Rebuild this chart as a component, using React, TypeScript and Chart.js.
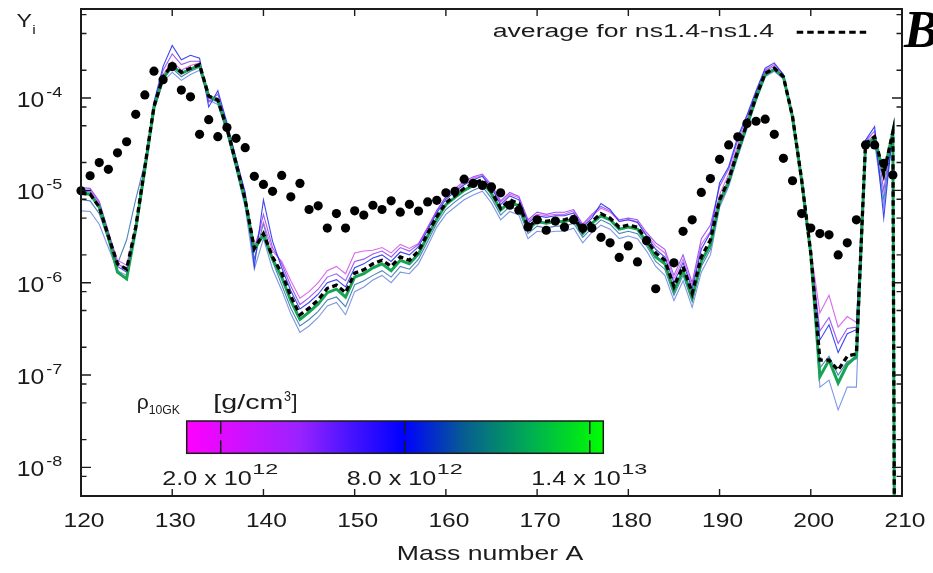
import React, { useEffect, useRef } from 'react';
import { Chart, registerables } from 'chart.js';

Chart.register(...registerables);

// ---------------- data ----------------
const massNumber = [
  120, 121, 122, 123, 124, 125, 126, 127, 128, 129,
  130, 131, 132, 133, 134, 135, 136, 137, 138, 139,
  140, 141, 142, 143, 144, 145, 146, 147, 148, 149,
  150, 151, 152, 153, 154, 155, 156, 157, 158, 159,
  160, 161, 162, 163, 164, 165, 166, 167, 168, 169,
  170, 171, 172, 173, 174, 175, 176, 177, 178, 179,
  180, 181, 182, 183, 184, 185, 186, 187, 188, 189,
  190, 191, 192, 193, 194, 195, 196, 197, 198, 199,
  200, 201, 202, 203, 204, 205, 206, 207, 208, 209, 210,
];

// average for ns1.4-ns1.4 (black dashed)
const averageNs14 = [
  9.3e-6, 9.1e-6, 6.6e-6, 3.2e-6, 1.6e-6, 1.4e-6, 4.0e-6, 1.8e-5, 8.1e-5, 1.7e-4,
  2.3e-4, 1.9e-4, 2.1e-4, 2.3e-4, 1.05e-4, 9.5e-5, 4.7e-5, 1.96e-5, 7.9e-6, 2.35e-6,
  3.4e-6, 1.9e-6, 1.27e-6, 7.1e-7, 4.5e-7, 5.3e-7, 6.5e-7, 8.7e-7, 9.4e-7, 7.8e-7,
  1.27e-6, 1.38e-6, 1.6e-6, 1.75e-6, 1.5e-6, 1.9e-6, 1.75e-6, 2.2e-6, 3.4e-6, 5.2e-6,
  7.3e-6, 8.8e-6, 1.05e-5, 1.19e-5, 1.3e-5, 9.7e-6, 6.4e-6, 7.9e-6, 7.2e-6, 4.0e-6,
  4.8e-6, 4.6e-6, 4.8e-6, 4.8e-6, 5.2e-6, 3.6e-6, 4.6e-6, 5.6e-6, 5.0e-6, 4.0e-6,
  4.2e-6, 4.0e-6, 2.9e-6, 2.1e-6, 1.75e-6, 9.1e-7, 1.5e-6, 7.7e-7, 1.9e-6, 2.9e-6,
  7.9e-6, 1.3e-5, 2.7e-5, 5.3e-5, 1.03e-4, 1.85e-4, 2.1e-4, 1.7e-4, 6.3e-5, 1.3e-5,
  2.1e-6, 1.45e-7, 1.45e-7, 1.13e-7, 1.6e-7, 1.7e-7, 3.2e-5, 3.8e-5, 1.5e-5, 4.3e-5, 1e-30,
];

// individual runs, coloured by rho_10GK
const rhoMagenta = [
  1.0e-5, 1.0e-5, 7.3e-6, 3.5e-6, 1.75e-6, 1.55e-6, 4.2e-6, 1.9e-5, 8.5e-5, 1.8e-4,
  2.5e-4, 2.0e-4, 2.25e-4, 2.4e-4, 1.0e-4, 1.0e-4, 5.0e-5, 2.1e-5, 8.5e-6, 2.5e-6,
  4.5e-6, 2.2e-6, 1.7e-6, 1.05e-6, 6.8e-7, 8.0e-7, 1.0e-6, 1.35e-6, 1.5e-6, 1.25e-6,
  2.1e-6, 2.2e-6, 2.25e-6, 2.4e-6, 2.1e-6, 2.6e-6, 2.35e-6, 2.65e-6, 4.0e-6, 6.1e-6,
  8.4e-6, 1.0e-5, 1.2e-5, 1.35e-5, 1.45e-5, 1.1e-5, 7.4e-6, 9.1e-6, 8.3e-6, 4.6e-6,
  5.5e-6, 5.3e-6, 5.5e-6, 5.5e-6, 6.0e-6, 4.1e-6, 5.3e-6, 6.4e-6, 5.8e-6, 4.6e-6,
  4.8e-6, 4.6e-6, 3.3e-6, 2.5e-6, 2.1e-6, 1.1e-6, 1.8e-6, 9.2e-7, 2.6e-6, 3.6e-6,
  9.0e-6, 1.5e-5, 3.1e-5, 5.8e-5, 1.1e-4, 1.95e-4, 2.2e-4, 1.75e-4, 6.5e-5, 1.35e-5,
  2.3e-6, 4.7e-7, 7.3e-7, 3.3e-7, 4.3e-7, 3.7e-7, 3.3e-5, 4.0e-5, 1.4e-5, 4.4e-5, 1e-30,
];
const rhoViolet = [
  1.07e-5, 1.05e-5, 7.6e-6, 3.6e-6, 1.6e-6, 1.4e-6, 4.1e-6, 1.9e-5, 8.8e-5, 2.0e-4,
  3.0e-4, 2.3e-4, 2.5e-4, 2.5e-4, 9.0e-5, 1.1e-4, 5.2e-5, 2.2e-5, 9.0e-6, 2.2e-6,
  5.5e-6, 2.4e-6, 1.6e-6, 9.2e-7, 5.8e-7, 6.9e-7, 8.5e-7, 1.15e-6, 1.25e-6, 1.05e-6,
  1.7e-6, 1.8e-6, 2.05e-6, 2.2e-6, 1.9e-6, 2.4e-6, 2.2e-6, 2.6e-6, 3.9e-6, 6.0e-6,
  8.6e-6, 1.05e-5, 1.25e-5, 1.4e-5, 1.5e-5, 1.15e-5, 7.7e-6, 9.5e-6, 8.6e-6, 4.8e-6,
  5.8e-6, 5.5e-6, 5.8e-6, 5.8e-6, 6.2e-6, 4.3e-6, 5.5e-6, 6.7e-6, 6.0e-6, 4.8e-6,
  5.0e-6, 4.8e-6, 3.5e-6, 2.7e-6, 2.3e-6, 1.2e-6, 2.0e-6, 1.0e-6, 3.0e-6, 4.2e-6,
  1.1e-5, 1.7e-5, 3.5e-5, 6.2e-5, 1.15e-4, 2.0e-4, 2.3e-4, 1.8e-4, 6.6e-5, 1.35e-5,
  2.2e-6, 3.0e-7, 4.2e-7, 2.2e-7, 3.2e-7, 3.3e-7, 3.4e-5, 4.4e-5, 1.0e-5, 4.5e-5, 1e-30,
];
const rhoBlue = [
  9.8e-6, 9.6e-6, 6.9e-6, 3.3e-6, 1.5e-6, 1.3e-6, 3.9e-6, 1.8e-5, 9.0e-5, 2.2e-4,
  3.7e-4, 2.6e-4, 2.9e-4, 2.7e-4, 8.0e-5, 1.2e-4, 5.4e-5, 2.2e-5, 9.5e-6, 1.5e-6,
  7.9e-6, 2.8e-6, 1.45e-6, 8.2e-7, 5.2e-7, 6.1e-7, 7.5e-7, 1.0e-6, 1.08e-6, 9.0e-7,
  1.45e-6, 1.6e-6, 1.85e-6, 2.0e-6, 1.7e-6, 2.15e-6, 2.0e-6, 2.45e-6, 3.7e-6, 5.7e-6,
  8.0e-6, 9.7e-6, 1.15e-5, 1.3e-5, 1.42e-5, 1.07e-5, 7.0e-6, 8.7e-6, 7.9e-6, 4.4e-6,
  5.3e-6, 5.1e-6, 5.3e-6, 5.3e-6, 5.7e-6, 4.0e-6, 5.0e-6, 7.2e-6, 6.2e-6, 4.6e-6,
  4.8e-6, 4.5e-6, 3.2e-6, 2.3e-6, 1.9e-6, 1.0e-6, 1.65e-6, 8.5e-7, 2.3e-6, 3.5e-6,
  1.2e-5, 1.8e-5, 3.8e-5, 6.5e-5, 1.2e-4, 2.1e-4, 2.4e-4, 1.8e-4, 6.6e-5, 1.35e-5,
  2.15e-6, 2.4e-7, 3.5e-7, 1.75e-7, 2.8e-7, 3.1e-7, 3.5e-5, 4.9e-5, 5.0e-6, 4.6e-5, 1e-30,
];
const rhoTeal = [
  7.9e-6, 7.7e-6, 5.6e-6, 2.9e-6, 1.6e-6, 2.9e-6, 8.0e-6, 2.0e-5, 8.0e-5, 1.6e-4,
  2.1e-4, 1.7e-4, 1.95e-4, 2.15e-4, 1.0e-4, 9.0e-5, 4.4e-5, 1.8e-5, 7.2e-6, 1.8e-6,
  4.4e-6, 1.7e-6, 9.5e-7, 5.3e-7, 3.4e-7, 4.0e-7, 4.9e-7, 6.5e-7, 7.0e-7, 5.5e-7,
  9.5e-7, 1.05e-6, 1.2e-6, 1.35e-6, 1.15e-6, 1.5e-6, 1.4e-6, 1.8e-6, 2.8e-6, 4.4e-6,
  6.2e-6, 7.5e-6, 8.9e-6, 1.0e-5, 1.1e-5, 8.2e-6, 5.4e-6, 6.7e-6, 6.1e-6, 3.4e-6,
  4.1e-6, 3.9e-6, 4.1e-6, 4.1e-6, 4.4e-6, 3.1e-6, 3.9e-6, 4.8e-6, 4.3e-6, 3.4e-6,
  3.6e-6, 3.4e-6, 2.5e-6, 1.7e-6, 1.4e-6, 7.3e-7, 1.2e-6, 6.2e-7, 1.5e-6, 2.3e-6,
  7.0e-6, 1.15e-5, 2.4e-5, 4.8e-5, 9.6e-5, 1.75e-4, 2.0e-4, 1.65e-4, 6.1e-5, 1.25e-5,
  2.0e-6, 1.2e-7, 1.6e-7, 1.0e-7, 1.4e-7, 1.5e-7, 3.0e-5, 3.5e-5, 8.0e-6, 4.2e-5, 1e-30,
];
const rhoLightBlue = [
  6.0e-6, 5.9e-6, 4.3e-6, 2.4e-6, 1.35e-6, 1.2e-6, 3.6e-6, 1.6e-5, 7.4e-5, 1.5e-4,
  1.9e-4, 1.55e-4, 1.8e-4, 2.0e-4, 9.5e-5, 8.5e-5, 4.2e-5, 1.7e-5, 6.5e-6, 1.4e-6,
  3.0e-6, 1.4e-6, 8.3e-7, 4.6e-7, 2.9e-7, 3.4e-7, 4.2e-7, 5.6e-7, 6.1e-7, 4.5e-7,
  8.0e-7, 9.0e-7, 1.07e-6, 1.2e-6, 1.0e-6, 1.3e-6, 1.25e-6, 1.6e-6, 2.5e-6, 4.0e-6,
  5.5e-6, 6.6e-6, 7.9e-6, 8.9e-6, 9.8e-6, 7.3e-6, 4.8e-6, 5.9e-6, 5.4e-6, 3.0e-6,
  3.6e-6, 3.5e-6, 3.6e-6, 3.6e-6, 3.9e-6, 2.7e-6, 3.5e-6, 4.2e-6, 3.8e-6, 3.0e-6,
  3.2e-6, 3.0e-6, 2.2e-6, 1.5e-6, 1.2e-6, 6.4e-7, 1.05e-6, 5.4e-7, 1.3e-6, 2.0e-6,
  6.5e-6, 1.1e-5, 2.3e-5, 4.6e-5, 9.2e-5, 1.7e-4, 1.95e-4, 1.6e-4, 6.0e-5, 1.2e-5,
  1.9e-6, 7.4e-8, 8.8e-8, 4.2e-8, 7.4e-8, 7.4e-8, 2.8e-5, 3.3e-5, 6.5e-6, 4.0e-5, 1e-30,
];
const rhoGreen = [
  9.3e-6, 9.1e-6, 6.6e-6, 3.1e-6, 1.3e-6, 1.1e-6, 3.8e-6, 1.7e-5, 7.9e-5, 1.65e-4,
  2.25e-4, 1.85e-4, 2.05e-4, 2.25e-4, 1.05e-4, 9.5e-5, 4.6e-5, 1.9e-5, 7.7e-6, 2.3e-6,
  3.3e-6, 1.8e-6, 1.15e-6, 6.4e-7, 4.0e-7, 4.8e-7, 5.9e-7, 7.8e-7, 8.5e-7, 7.0e-7,
  1.15e-6, 1.25e-6, 1.45e-6, 1.6e-6, 1.35e-6, 1.75e-6, 1.6e-6, 2.05e-6, 3.2e-6, 4.9e-6,
  7.0e-6, 8.4e-6, 1.0e-5, 1.13e-5, 1.24e-5, 9.2e-6, 6.1e-6, 7.5e-6, 6.8e-6, 3.8e-6,
  4.6e-6, 4.4e-6, 4.6e-6, 4.6e-6, 4.9e-6, 3.4e-6, 4.4e-6, 5.3e-6, 4.8e-6, 3.8e-6,
  4.0e-6, 3.8e-6, 2.75e-6, 1.9e-6, 1.6e-6, 8.2e-7, 1.35e-6, 6.9e-7, 1.7e-6, 2.6e-6,
  7.5e-6, 1.25e-5, 2.6e-5, 5.1e-5, 1.0e-4, 1.8e-4, 2.05e-4, 1.7e-4, 6.2e-5, 1.28e-5,
  2.05e-6, 9.6e-8, 1.45e-7, 8.2e-8, 1.3e-7, 1.6e-7, 3.1e-5, 3.7e-5, 1.5e-5, 4.3e-5, 1e-30,
];

// solar r-process abundances (black dots)
const solarMass = [
  120, 121, 122, 123, 124, 125, 126, 127, 128, 129,
  130, 131, 132, 133, 134, 135, 136, 137, 138, 139,
  140, 141, 142, 143, 144, 145, 146, 147, 148, 149,
  150, 151, 152, 153, 154, 155, 156, 157, 158, 159,
  160, 161, 162, 163, 164, 165, 166, 167, 168, 169,
  170, 171, 172, 173, 174, 175, 176, 177, 178, 179,
  180, 181, 182, 183, 185, 186, 187, 188, 189,
  190, 191, 192, 193, 194, 195, 196, 197, 198, 199,
  200, 201, 202, 203, 204, 205, 206, 207, 208, 209,
];
const solarAbundance = [
  9.9e-6, 1.44e-5, 2.0e-5, 1.69e-5, 2.55e-5, 3.36e-5, 6.65e-5, 1.08e-4, 1.95e-4, 1.58e-4,
  2.19e-4, 1.22e-4, 1.03e-4, 4.04e-5, 5.82e-5, 3.81e-5, 4.79e-5, 3.66e-5, 2.9e-5, 1.42e-5,
  1.16e-5, 9.75e-6, 1.45e-5, 8.5e-6, 1.19e-5, 6.2e-6, 6.8e-6, 3.9e-6, 5.6e-6, 3.9e-6,
  6.0e-6, 5.4e-6, 6.9e-6, 6.2e-6, 7.7e-6, 5.8e-6, 7.05e-6, 5.97e-6, 7.5e-6, 7.8e-6,
  9.4e-6, 9.75e-6, 1.32e-5, 1.19e-5, 1.13e-5, 1.09e-5, 9.4e-6, 6.9e-6, 6.1e-6, 4.0e-6,
  4.8e-6, 3.7e-6, 4.65e-6, 4.0e-6, 4.8e-6, 3.9e-6, 3.9e-6, 3.1e-6, 2.7e-6, 1.88e-6,
  2.5e-6, 1.68e-6, 2.85e-6, 8.6e-7, 1.64e-6, 3.6e-6, 4.8e-6, 9.5e-6, 1.34e-5,
  2.17e-5, 3.1e-5, 3.8e-5, 5.3e-5, 5.6e-5, 5.9e-5, 4.04e-5, 2.22e-5, 1.27e-5, 5.6e-6,
  3.9e-6, 3.4e-6, 3.3e-6, 2.0e-6, 2.7e-6, 4.8e-6, 3.1e-5, 3.1e-5, 1.96e-5, 1.47e-5,
];

const xTicks = [120, 130, 140, 150, 160, 170, 180, 190, 200, 210];
const yMajorTicks = [1e-8, 1e-7, 1e-6, 1e-5, 1e-4];
const yMinorTicks = [
  8e-9, 2e-8, 5e-8, 8e-8, 2e-7, 5e-7, 8e-7, 2e-6, 5e-6, 8e-6,
  2e-5, 5e-5, 8e-5, 2e-4, 5e-4, 8e-4,
];
const colorbarRange = [8.94e11, 1.444e13];
const colorbarTicks = [2e12, 8e12, 1.4e13];
const colorbarMantissas = ['2.0 x 10', '8.0 x 10', '1.4 x 10'];
const colorbarExponents = ['12', '12', '13'];

// ---------------- drawing helpers ----------------
const INK = '#1b1b1b';
const SANS = "'Liberation Sans', Arial, sans-serif";

function fitText(ctx: CanvasRenderingContext2D, text: string, font: string, left: number, width: number, baseline: number) {
  ctx.save();
  ctx.font = font;
  const natural = ctx.measureText(text).width || 1;
  ctx.translate(left, baseline);
  ctx.scale(width / natural, 1);
  ctx.fillStyle = INK;
  ctx.textAlign = 'left';
  ctx.textBaseline = 'alphabetic';
  ctx.fillText(text, 0, 0);
  ctx.restore();
}

const gnuplotFrame = {
  id: 'gnuplotFrame',
  afterDraw(chart: any) {
    const { ctx, chartArea: a, scales } = chart;
    const xs = scales.x;
    const ys = scales.y;
    ctx.save();

    // ticks (inward, mirrored)
    ctx.strokeStyle = INK;
    ctx.lineWidth = 1.4;
    ctx.beginPath();
    xTicks.forEach((v) => {
      const px = xs.getPixelForValue(v);
      ctx.moveTo(px, a.bottom);
      ctx.lineTo(px, a.bottom - 7);
      ctx.moveTo(px, a.top);
      ctx.lineTo(px, a.top + 7);
    });
    yMajorTicks.forEach((v) => {
      const py = ys.getPixelForValue(v);
      ctx.moveTo(a.left, py);
      ctx.lineTo(a.left + 10, py);
      ctx.moveTo(a.right, py);
      ctx.lineTo(a.right - 10, py);
    });
    yMinorTicks.forEach((v) => {
      const py = ys.getPixelForValue(v);
      ctx.moveTo(a.left, py);
      ctx.lineTo(a.left + 5.5, py);
      ctx.moveTo(a.right, py);
      ctx.lineTo(a.right - 5.5, py);
    });
    ctx.stroke();

    // border
    ctx.lineWidth = 2;
    ctx.strokeRect(a.left, a.top, a.right - a.left, a.bottom - a.top);

    // x tick labels
    xTicks.forEach((v) => {
      const px = xs.getPixelForValue(v);
      fitText(ctx, String(v), `21px ${SANS}`, px + 3 - 20.5, 41, 527);
    });
    // y tick labels 10^n
    yMajorTicks.forEach((v) => {
      const py = ys.getPixelForValue(v);
      fitText(ctx, '10', `22px ${SANS}`, 16.7, 27.5, py + 9);
      fitText(ctx, String(Math.round(Math.log10(v))), `15px ${SANS}`, 46.3, 16, py - 1);
    });

    // axis titles
    fitText(ctx, 'Y', `19px ${SANS}`, 16.5, 15.5, 26.7);
    fitText(ctx, 'i', `12px ${SANS}`, 32.3, 3.5, 33.5);
    fitText(ctx, 'Mass number A', `21px ${SANS}`, 396.7, 186.6, 560);

    // legend
    fitText(ctx, 'average for ns1.4-ns1.4', `18px ${SANS}`, 492.7, 281.3, 36.5);
    ctx.strokeStyle = '#000';
    ctx.lineWidth = 3;
    ctx.setLineDash([6.5, 4]);
    ctx.beginPath();
    ctx.moveTo(796.7, 32.3);
    ctx.lineTo(869.5, 32.3);
    ctx.stroke();
    ctx.setLineDash([]);

    // colour bar
    const cbL = 186.7, cbR = 603.3, cbT = 421, cbB = 453.3;
    const grad = ctx.createLinearGradient(cbL, 0, cbR, 0);
    grad.addColorStop(0, '#ff00ff');
    grad.addColorStop(0.27, '#9a22ff');
    grad.addColorStop(0.39, '#4a14ff');
    grad.addColorStop(0.52, '#0000ff');
    grad.addColorStop(0.67, '#075f8f');
    grad.addColorStop(0.83, '#00b050');
    grad.addColorStop(1, '#00ff00');
    ctx.fillStyle = grad;
    ctx.fillRect(cbL, cbT, cbR - cbL, cbB - cbT);
    ctx.strokeStyle = INK;
    ctx.lineWidth = 1.5;
    ctx.strokeRect(cbL, cbT, cbR - cbL, cbB - cbT);
    const [cMin, cMax] = colorbarRange;
    colorbarTicks.forEach((t, i) => {
      const px = cbL + ((t - cMin) / (cMax - cMin)) * (cbR - cbL);
      ctx.beginPath();
      ctx.moveTo(px, cbT);
      ctx.lineTo(px, cbT + 13);
      ctx.moveTo(px, cbB);
      ctx.lineTo(px, cbB - 13);
      ctx.stroke();
      fitText(ctx, colorbarMantissas[i], `21px ${SANS}`, px - 58.5, 89.5, 485);
      fitText(ctx, colorbarExponents[i], `15px ${SANS}`, px + 31.5, 26, 474);
    });
    // colour bar title
    fitText(ctx, 'ρ', `21px ${SANS}`, 136.7, 12, 409);
    fitText(ctx, '10GK', `13px ${SANS}`, 148.8, 31.2, 414);
    fitText(ctx, '[g/cm', `20px ${SANS}`, 213.3, 70, 409);
    fitText(ctx, '3', `14px ${SANS}`, 284, 7, 400.7);
    fitText(ctx, ']', `20px ${SANS}`, 291.5, 6, 409);

    // panel letter
    ctx.fillStyle = '#000';
    ctx.font = "italic bold 52px 'Liberation Serif', serif";
    ctx.textAlign = 'left';
    ctx.textBaseline = 'alphabetic';
    ctx.fillText('B', 904, 47);

    ctx.restore();
  },
};

function pts(ys: number[]) {
  return massNumber.map((x, i) => ({ x, y: ys[i] }));
}

function thinLine(label: string, ys: number[], color: string, order: number) {
  return {
    label,
    data: pts(ys),
    borderColor: color,
    borderWidth: 1.1,
    pointRadius: 0,
    tension: 0,
    fill: false,
    order,
  };
}

export default function App() {
  const ref = useRef<HTMLCanvasElement>(null);

  useEffect(() => {
    if (!ref.current) return;
    const chart = new Chart(ref.current, {
      type: 'line',
      data: {
        datasets: [
          {
            label: 'solar r-process',
            data: solarMass.map((x, i) => ({ x, y: solarAbundance[i] })),
            showLine: false,
            pointRadius: 4.6,
            pointBackgroundColor: '#000',
            pointBorderWidth: 0,
            borderColor: '#000',
            clip: false,
            order: 0,
          } as any,
          {
            label: 'average for ns1.4-ns1.4',
            data: pts(averageNs14),
            borderColor: '#000',
            borderWidth: 3.3,
            borderDash: [5.5, 3.5],
            pointRadius: 0,
            tension: 0,
            fill: false,
            order: 1,
          },
          {
            label: 'rho high',
            data: pts(rhoGreen),
            borderColor: '#16a455',
            borderWidth: 3,
            pointRadius: 0,
            tension: 0,
            fill: false,
            order: 2,
          },
          thinLine('rho blue', rhoBlue, 'rgba(40,50,240,0.9)', 3),
          thinLine('rho violet', rhoViolet, 'rgba(140,60,245,0.85)', 4),
          thinLine('rho magenta', rhoMagenta, 'rgba(214,90,232,0.9)', 5),
          thinLine('rho teal', rhoTeal, 'rgba(47,111,176,0.85)', 6),
          thinLine('rho light blue', rhoLightBlue, 'rgba(110,140,224,0.9)', 7),
        ],
      },
      options: {
        animation: false,
        responsive: false,
        devicePixelRatio: 1,
        events: [],
        layout: { padding: { left: 81, right: 31, top: 9, bottom: 77 } },
        plugins: {
          legend: { display: false },
          tooltip: { enabled: false },
          title: { display: false },
        },
        scales: {
          x: { type: 'linear', min: 120, max: 210, display: false },
          y: { type: 'logarithmic', min: 4.9e-9, max: 9.2e-4, display: false },
        },
      },
      plugins: [gnuplotFrame],
    } as any);
    return () => chart.destroy();
  }, []);

  return (
    <div style={{ position: 'fixed', left: 0, top: 0, width: 933, height: 573, background: '#fff' }}>
      <canvas ref={ref} width={933} height={573} style={{ width: 933, height: 573, display: 'block' }} />
    </div>
  );
}
